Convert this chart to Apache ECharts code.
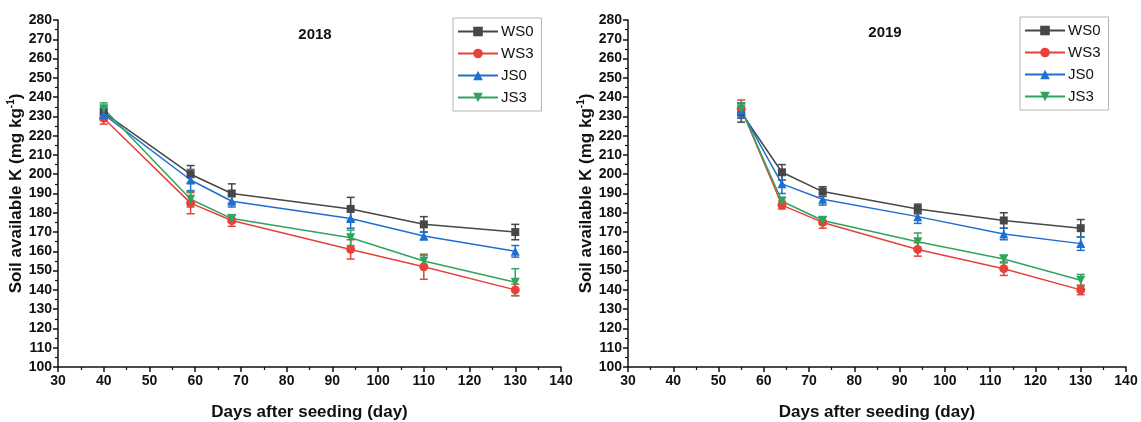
<!DOCTYPE html>
<html>
<head>
<meta charset="utf-8">
<script src="https://cdn.jsdelivr.net/npm/echarts@6/dist/echarts.min.js"></script>
<style>
  html, body { margin: 0; padding: 0; background: #fff; }
  #chart { width: 1141px; height: 422px; }
</style>
</head>
<body>
<div id="chart"></div>
<script>
// 2018
const days2018 = [40, 59, 68, 94, 110, 130]
const ws0_2018 = [232, 200, 190, 182, 174, 170]
const ws3_2018 = [229, 185, 176, 161, 152, 140]
const js0_2018 = [231, 197, 186, 177, 168, 160]
const js3_2018 = [234, 187, 177, 167, 155, 144]
const ws0Err2018 = [3, 4.5, 5, 6, 4, 4]
const ws3Err2018 = [3, 5.5, 3, 5, 6.5, 3]
const js0Err2018 = [3, 5.5, 3, 5, 2, 3]
const js3Err2018 = [3, 4, 2, 4, 3, 7]

// 2019
const days2019 = [55, 64, 73, 94, 113, 130]
const ws0_2019 = [232, 201, 191, 182, 176, 172]
const ws3_2019 = [234, 184, 175, 161, 151, 140]
const js0_2019 = [233, 195, 187, 178, 169, 164]
const js3_2019 = [234, 186, 176, 165, 156, 145]
const ws0Err2019 = [5, 4, 2.5, 2.5, 4, 4.5]
const ws3Err2019 = [4.5, 2, 3, 3.5, 3.5, 2.5]
const js0Err2019 = [4, 5, 3, 3.5, 3, 3.5]
const js3Err2019 = [3, 2, 2, 4.5, 2, 3]

const yTicks = [100, 280, 10]
const xTicks = [30, 140, 10]
const names = ['WS0', 'WS3', 'JS0', 'JS3']
const colors = ['#474747', '#e8403a', '#1f6fd1', '#2ea45c']
const symbols = ['rect', 'circle', 'triangle', 'triangle']
const symbolRotates = [0, 0, 0, 180]

const chart = echarts.init(document.getElementById('chart'))
const font = 'Liberation Sans, Arial, sans-serif'

const xAxisCfg = (gridIndex) => ({
  gridIndex,
  type: 'value',
  min: xTicks[0], max: xTicks[1], interval: xTicks[2],
  name: 'Days after seeding (day)',
  nameLocation: 'middle',
  nameGap: 37,
  nameTextStyle: { fontFamily: font, fontWeight: 'bold', fontSize: 17, color: '#111' },
  axisLine: { lineStyle: { color: '#111', width: 1.5 } },
  axisTick: { inside: false, length: 5, lineStyle: { color: '#111', width: 1.5 } },
  minorTick: { show: true, splitNumber: 2, length: 3, lineStyle: { color: '#111', width: 1.2 } },
  axisLabel: { fontFamily: font, fontWeight: 'bold', fontSize: 14, color: '#111', margin: 7 },
  splitLine: { show: false }
})

const yAxisCfg = (gridIndex) => ({
  gridIndex,
  type: 'value',
  min: yTicks[0], max: yTicks[1], interval: yTicks[2],
  name: '{a|Soil available K (mg kg}{s|-1}{a|)}',
  nameLocation: 'middle',
  nameGap: 31,
  nameTextStyle: {
    rich: {
      a: { fontFamily: font, fontWeight: 'bold', fontSize: 17, color: '#111', lineHeight: 20 },
      s: { fontFamily: font, fontWeight: 'bold', fontSize: 10, color: '#111', lineHeight: 20, verticalAlign: 'top', padding: [0, 0, 8, 0] }
    }
  },
  axisLine: { show: true, lineStyle: { color: '#111', width: 1.5 } },
  axisTick: { show: true, inside: false, length: 5, lineStyle: { color: '#111', width: 1.5 } },
  minorTick: { show: true, splitNumber: 2, length: 3, lineStyle: { color: '#111', width: 1.2 } },
  axisLabel: { fontFamily: font, fontWeight: 'bold', fontSize: 14, color: '#111', margin: 6 },
  splitLine: { show: false }
})

const sets = [
  { days: days2018, vals: [ws0_2018, ws3_2018, js0_2018, js3_2018], errs: [ws0Err2018, ws3Err2018, js0Err2018, js3Err2018] },
  { days: days2019, vals: [ws0_2019, ws3_2019, js0_2019, js3_2019], errs: [ws0Err2019, ws3Err2019, js0Err2019, js3Err2019] }
]

const lineSeries = []
const errSeries = []
sets.forEach((set, g) => {
  names.forEach((name, i) => {
    const data = set.days.map((d, k) => [d, set.vals[i][k], set.errs[i][k]])
    lineSeries.push({
      type: 'line',
      name,
      xAxisIndex: g,
      yAxisIndex: g,
      data: data.map((p) => [p[0], p[1]]),
      z: 3,
      symbol: symbols[i],
      symbolRotate: symbolRotates[i],
      symbolSize: i === 0 ? 8 : 9,
      color: colors[i],
      lineStyle: { width: 1.5, color: colors[i] },
      itemStyle: { color: colors[i] }
    })
    errSeries.push({
      type: 'custom',
      name,
      xAxisIndex: g,
      yAxisIndex: g,
      data,
      z: 2,
      color: colors[i],
      itemStyle: { color: colors[i] },
      renderItem: (params, api) => {
        const x = api.value(0)
        const v = api.value(1)
        const e = api.value(2)
        const hi = api.coord([x, v + e])
        const lo = api.coord([x, v - e])
        const cap = 4
        const style = { stroke: colors[i], lineWidth: 1.5 }
        return {
          type: 'group',
          children: [
            { type: 'line', shape: { x1: hi[0], y1: hi[1], x2: lo[0], y2: lo[1] }, style },
            { type: 'line', shape: { x1: hi[0] - cap, y1: hi[1], x2: hi[0] + cap, y2: hi[1] }, style },
            { type: 'line', shape: { x1: lo[0] - cap, y1: lo[1], x2: lo[0] + cap, y2: lo[1] }, style }
          ]
        }
      },
      encode: { x: 0, y: 1 },
      silent: true
    })
  })
})

const legendCfg = (left, top) => ({
  orient: 'vertical',
  left, top,
  data: names,
  itemWidth: 40,
  itemHeight: 12,
  itemGap: 7,
  padding: [6, 8, 6, 4],
  borderColor: '#b5b5b5',
  borderWidth: 1,
  backgroundColor: '#fff',
  textStyle: { fontFamily: font, fontSize: 15, color: '#111', padding: [0, 0, 0, -2] },
  selectedMode: false
})

chart.setOption({
  animation: false,
  backgroundColor: '#fff',
  title: [
    { text: '2018', left: 310, top: 22, textAlign: 'center', textStyle: { fontFamily: font, fontWeight: 'bold', fontSize: 15, color: '#111' } },
    { text: '2019', left: 880, top: 20, textAlign: 'center', textStyle: { fontFamily: font, fontWeight: 'bold', fontSize: 15, color: '#111' } }
  ],
  legend: [legendCfg(453, 18), legendCfg(1020, 17)],
  grid: [
    { left: 58, top: 20, width: 503, height: 347, outerBoundsMode: 'none' },
    { left: 628, top: 20, width: 498, height: 347, outerBoundsMode: 'none' }
  ],
  xAxis: [xAxisCfg(0), xAxisCfg(1)],
  yAxis: [yAxisCfg(0), yAxisCfg(1)],
  series: lineSeries.concat(errSeries)
})
</script>
</body>
</html>
